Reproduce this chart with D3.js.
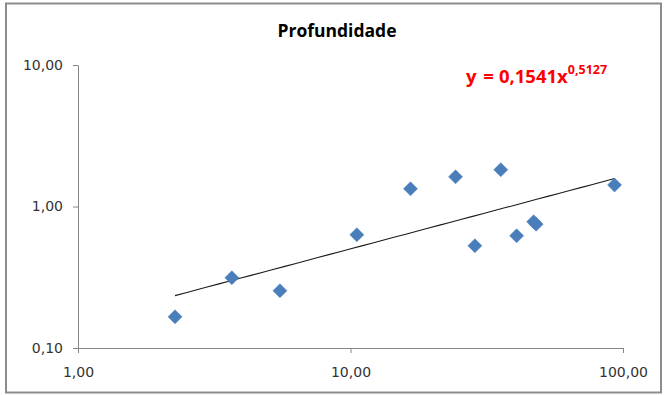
<!DOCTYPE html>
<html>
<head>
<meta charset="utf-8">
<script src="https://cdn.jsdelivr.net/npm/d3@7"></script>
<style>
  html, body { margin: 0; padding: 0; background: #fff; }
  svg { display: block; }
</style>
</head>
<body>
<svg id="chart" width="666" height="395"></svg>
<script>
// ---- data ----
const title = "Profundidade";
const xValues = [2.27, 3.67, 5.51, 10.55, 16.6, 24.3, 28.6, 35.6, 40.7, 47.0, 48.0, 93.1];
const yValues = [0.166, 0.314, 0.254, 0.631, 1.334, 1.62, 0.528, 1.82, 0.621, 0.78, 0.75, 1.42];
const xTicks = [1, 10, 100];
const xTickLabels = ["1,00", "10,00", "100,00"];
const yTicks = [0.1, 1, 10];
const yTickLabels = ["0,10", "1,00", "10,00"];
const trendA = 0.1541;
const trendB = 0.5127;
const equationMain = "y = 0,1541x";
const equationExp = "0,5127";

(function () {
// ---- layout ----
const svg = d3.select("#chart");
const pLeft = 78, pRight = 623, pTop = 65, pBottom = 348;

svg.append("rect")
  .attr("x", 6).attr("y", 3.5).attr("width", 655).attr("height", 389)
  .attr("fill", "#fff").attr("stroke", "#8c8c8c").attr("stroke-width", 2);

const x = d3.scaleLog().domain([1, 100]).range([pLeft, pRight]);
const y = d3.scaleLog().domain([0.1, 10]).range([pBottom, pTop]);

// title
svg.append("text")
  .attr("x", 337).attr("y", 37)
  .attr("text-anchor", "middle")
  .attr("font-family", "'Open Sans', sans-serif")
  .attr("font-weight", "bold")
  .attr("font-size", 17.5)
  .attr("fill", "#000")
  .text(title);

const axisColor = "#868686";
const labelFont = "'DejaVu Sans', sans-serif";

// y axis
const yAxis = svg.append("g")
  .attr("transform", `translate(${pLeft},0)`)
  .call(d3.axisLeft(y).tickValues(yTicks).tickSize(5).tickSizeOuter(0).tickPadding(10)
    .tickFormat((d, i) => yTickLabels[i]));
yAxis.selectAll("path, line").attr("stroke", axisColor);
yAxis.selectAll("text").attr("font-family", labelFont).attr("font-size", 14).attr("fill", "#333");

// x axis
const xAxis = svg.append("g")
  .attr("transform", `translate(0,${pBottom})`)
  .call(d3.axisBottom(x).tickValues(xTicks).tickSize(5).tickSizeOuter(0).tickPadding(14)
    .tickFormat((d, i) => xTickLabels[i]));
xAxis.selectAll("path, line").attr("stroke", axisColor);
xAxis.selectAll("text").attr("font-family", labelFont).attr("font-size", 14).attr("fill", "#333");

// trendline
const xMin = d3.min(xValues), xMax = d3.max(xValues);
const trendPts = d3.range(0, 41).map(i => {
  const xv = Math.exp(Math.log(xMin) + (Math.log(xMax) - Math.log(xMin)) * i / 40);
  return [xv, trendA * Math.pow(xv, trendB)];
});
svg.append("path")
  .datum(trendPts)
  .attr("fill", "none")
  .attr("stroke", "#1a1a1a")
  .attr("stroke-width", 1.1)
  .attr("d", d3.line().x(d => x(d[0])).y(d => y(d[1])));

// markers (diamonds)
const diamond = d3.symbol().type(d3.symbolSquare).size(98);
svg.append("g").selectAll("path")
  .data(xValues.map((xv, i) => [xv, yValues[i]]))
  .join("path")
  .attr("d", diamond)
  .attr("transform", d => `translate(${x(d[0])},${y(d[1])}) rotate(45)`)
  .attr("fill", "#4a7ebb")
  .attr("stroke", "#4a7ebb")
  .attr("stroke-width", 0.5);

// equation
const eq = svg.append("text")
  .attr("x", 466).attr("y", 83)
  .attr("font-family", "'Open Sans', sans-serif")
  .attr("font-weight", "bold")
  .attr("font-size", 18.5)
  .attr("fill", "#ff0000");
eq.append("tspan").text("y =").attr("letter-spacing", 1);
eq.append("tspan").attr("dx", 4).text(equationMain.slice(3).trim());
eq.append("tspan").attr("dy", -9).attr("font-size", 12.5).text(equationExp);
})();
</script>
</body>
</html>
